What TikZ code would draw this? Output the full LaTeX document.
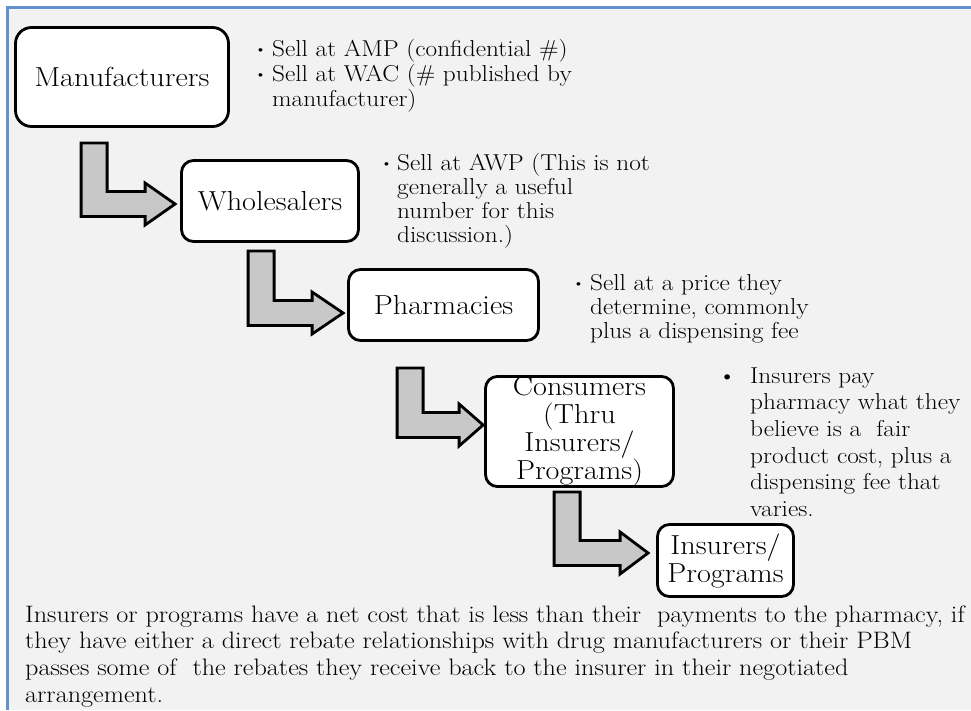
\documentclass[tikz,border=0pt]{standalone}
\usepackage{fontspec}
\setmainfont{Latin Modern Roman}[FakeStretch=1.1]
\usetikzlibrary{calc}

\definecolor{panelgray}{RGB}{242,242,242}
\definecolor{frameblue}{RGB}{98,146,206}
\definecolor{arrowgray}{RGB}{200,200,200}

\tikzset{
    stage/.style={draw=black, line width=2.8pt, rounded corners=12pt, fill=white,
        inner sep=0pt, align=center, font=\fontsize{27.5}{28}\selectfont},
    note/.style={anchor=base west, inner sep=0pt, font=\fontsize{23}{25}\selectfont},
    flowarrow/.style={draw=black, line width=2.8pt, fill=arrowgray, line join=miter},
}

% small raised bullet used in the price notes
\newcommand{\smallbul}{\raisebox{3pt}{\fontsize{13}{13}\selectfont\textbullet}}

% bent block arrow: #1 top-left corner of the stem, #2 tip, #3 head length
\newcommand{\flowarrow}[3]{%
    \draw[flowarrow] (#1) -- ++(26,0) |- ($(#2)+(-#3,-12.5)$) -- ++(0,-8.5)
        -- (#2) -- ++(-#3,21) -- ++(0,-8.5) -| (#1) -- cycle;
}

\begin{document}
\begin{tikzpicture}[x=1pt, y=-1pt]
    \useasboundingbox (0,0) rectangle (971,710);

    % Panel background with its blue frame (left and top edges only show)
    \fill[panelgray] (7,7) rectangle (971,710);
    \draw[frameblue, line width=3pt] (7,710) -- (7,7) -- (971,7);

    % The supply chain, one rounded box per stage
    \node[stage, minimum width=213pt, minimum height=99pt, rounded corners=16pt] (mfr) at (122,77) {Manufacturers};
    \node[stage, minimum width=177pt, minimum height=81pt] (whole) at (270,201) {Wholesalers};
    \node[stage, minimum width=190pt, minimum height=71pt] (pharm) at (443.5,305) {Pharmacies};
    \node[stage, minimum width=188pt, minimum height=110pt] (cons) at (579.5,431.5) {Consumers\\(Thru\\Insurers/\\Programs)};
    \node[stage, minimum width=136pt, minimum height=72pt] (ins) at (725.5,560.5) {Insurers/\\Programs};

    % Where each bent arrow starts (below a box) and ends (left of the next one)
    \coordinate (stem1) at ($(mfr.south west)+(67,15)$);
    \coordinate (tip1) at ($(whole.west)+(-5,3)$);
    \coordinate (stem2) at ($(whole.south west)+(68,8)$);
    \coordinate (tip2) at ($(pharm.west)+(-4,8)$);
    \coordinate (stem3) at ($(pharm.south west)+(50,26)$);
    \coordinate (tip3) at ($(cons.west)+(-1,-6.5)$);
    \coordinate (stem4) at ($(cons.south west)+(70,4)$);
    \coordinate (tip4) at ($(ins.west)+(-8,-7.5)$);

    \flowarrow{stem1}{tip1}{30}
    \flowarrow{stem2}{tip2}{31}
    \flowarrow{stem3}{tip3}{24}
    \flowarrow{stem4}{tip4}{28}

    % Price notes beside each stage
    \node[note] (mfrnote) at (255,56) {\begin{tabular}[t]{@{}p{17pt}@{}l@{}}
        \smallbul & Sell at AMP (confidential \#)\\
        \smallbul & Sell at WAC (\# published by\\
                  & manufacturer)
    \end{tabular}};
    \node[note, font=\fontsize{23}{24}\selectfont] (wholenote) at (381,170) {\begin{tabular}[t]{@{}p{16pt}@{}l@{}}
        \smallbul & Sell at AWP (This is not\\
                  & generally a useful\\
                  & number for this\\
                  & discussion.)
    \end{tabular}};
    \node[note, font=\fontsize{23}{24}\selectfont] (pharmnote) at (573,290) {\begin{tabular}[t]{@{}p{17pt}@{}l@{}}
        \smallbul & Sell at a price they\\
                  & determine, commonly\\
                  & plus a dispensing fee
    \end{tabular}};
    \node[note, font=\fontsize{23}{26.7}\selectfont] (consnote) at (718,383) {\begin{tabular}[t]{@{}p{32pt}@{}l@{}}
        \textbullet & Insurers pay\\
                    & pharmacy what they\\
                    & believe is a\ \ fair\\
                    & product cost, plus a\\
                    & dispensing fee that\\
                    & varies.
    \end{tabular}};

    % Closing remark under the chain
    \node[note, font=\fontsize{23.8}{26.7}\selectfont] (remark) at (25,622) {\begin{tabular}[t]{@{}l@{}}
        Insurers or programs have a net cost that is less than their\ \ payments to the pharmacy, if\\
        they have either a direct rebate relationships with drug manufacturers or their PBM\\
        passes some of\ \ the rebates they receive back to the insurer in their negotiated\\
        arrangement.
    \end{tabular}};
\end{tikzpicture}
\end{document}
